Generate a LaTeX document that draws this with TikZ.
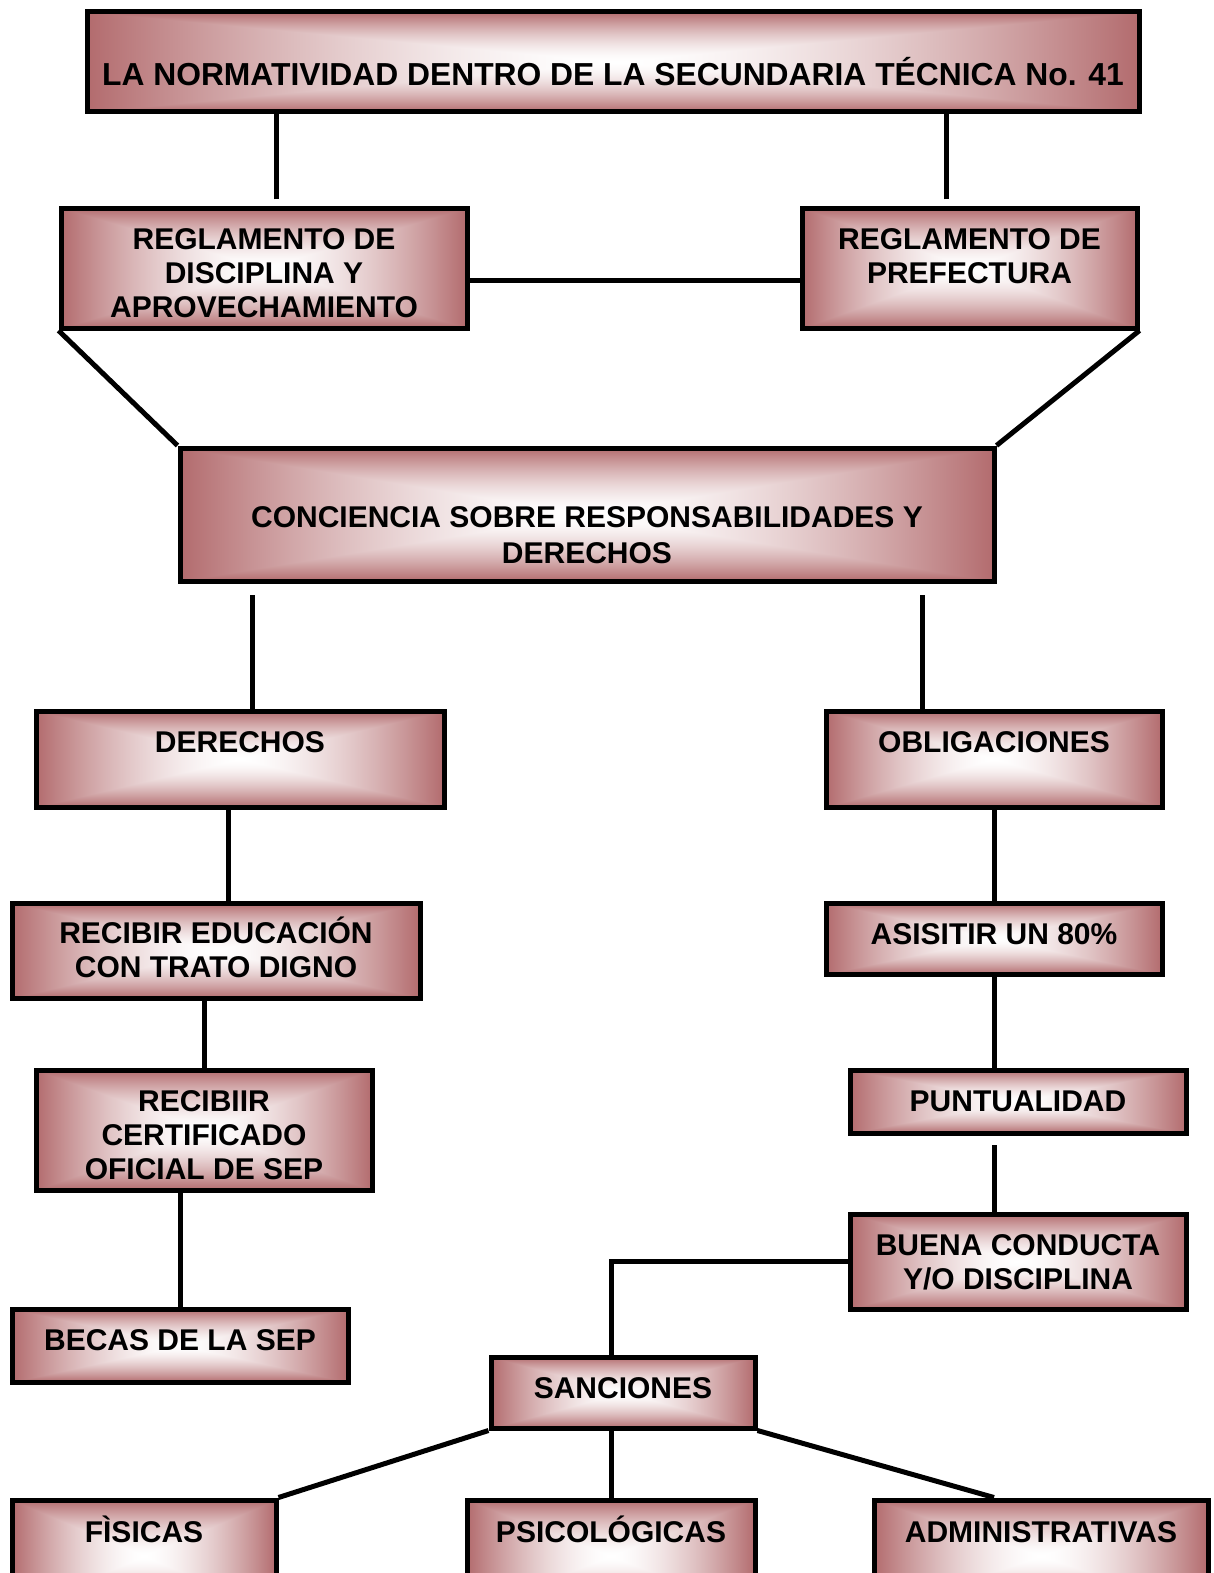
\documentclass[tikz,border=0pt]{standalone}
\usepackage{fontspec}
\setmainfont{Liberation Sans}
\usetikzlibrary{calc}

% rose frame: white centre, rosy edges
\pgfdeclarefunctionalshading{rosebox}{\pgfpoint{-50bp}{-50bp}}{\pgfpoint{50bp}{50bp}}{}{%
  abs exch abs 2 copy lt {exch} if pop 25 div
  dup 1 gt {pop 1} if
  dup 1.6 exp exch pop
  dup 0.30 mul 1 exch sub exch
  dup 0.58 mul 1 exch sub exch
  0.57 mul 1 exch sub}

\tikzset{
  frame/.style n args={3}{draw, line width=5pt, shading=rosebox, inner sep=0pt,
    anchor=base, align=center, font=\bfseries\fontsize{30}{34}\selectfont,
    minimum width=#1, text height=#2, text depth=#3},
  link/.style={line width=5pt}
}

\begin{document}
\begin{tikzpicture}[x=1pt, y=-1pt]
  \useasboundingbox (0,0) rectangle (1213,1573);

  \node[frame={1052pt}{74pt}{26pt}, font=\bfseries\fontsize{31.8}{34}\selectfont] (norma) at (613,86) {LA NORMATIVIDAD DENTRO DE LA SECUNDARIA TÉCNICA No. 41};

  \node[frame={406pt}{109pt}{11pt}] (regdis) at (264,317) {REGLAMENTO DE\\DISCIPLINA Y\\APROVECHAMIENTO};
  \node[frame={335pt}{75pt}{45pt}] (regpre) at (969.5,283) {REGLAMENTO DE\\PREFECTURA};

  \node[frame={814pt}{115pt}{18pt}, font=\bfseries\fontsize{30}{36}\selectfont] (conc) at (587,563) {CONCIENCIA SOBRE RESPONSABILIDADES Y\\DERECHOS};

  \node[frame={408pt}{41pt}{55pt}] (der) at (240,752) {DERECHOS};
  \node[frame={336pt}{41pt}{55pt}] (obl) at (994,752) {OBLIGACIONES};

  \node[frame={408pt}{74pt}{21pt}] (edu) at (216,977) {RECIBIR EDUCACIÓN\\CON TRATO DIGNO};
  \node[frame={336pt}{41pt}{30pt}] (asis) at (994,944) {ASISITIR UN 80\%};

  \node[frame={336pt}{109pt}{11pt}] (cert) at (204,1179) {RECIBIIR\\CERTIFICADO\\OFICIAL DE SEP};
  \node[frame={336pt}{41pt}{22pt}] (punt) at (1018,1111) {PUNTUALIDAD};

  \node[frame={336pt}{75pt}{20pt}] (cond) at (1018,1289) {BUENA CONDUCTA\\Y/O DISCIPLINA};
  \node[frame={336pt}{41pt}{32pt}] (becas) at (180,1350) {BECAS DE LA SEP};

  \node[frame={264pt}{41pt}{30pt}] (sanc) at (623,1398) {SANCIONES};

  \node[frame={264pt}{42pt}{70pt}] (fis) at (144,1542) {FÌSICAS};
  \node[frame={288pt}{42pt}{70pt}] (psi) at (611,1542) {PSICOLÓGICAS};
  \node[frame={334pt}{42pt}{70pt}] (adm) at (1041,1542) {ADMINISTRATIVAS};

  % upper part
  \draw[link] ([xshift=12pt,yshift=6pt]regdis.north) -- ([xshift=12pt]regdis.north |- norma.south);
  \draw[link] ([xshift=-23.5pt,yshift=6pt]regpre.north) -- ([xshift=-23.5pt]regpre.north |- norma.south);
  \draw[link] ([yshift=-12pt]regdis.east) -- ([yshift=-12pt]regdis.east -| regpre.west);
  \draw[link] (regdis.south west) -- (conc.north west);
  \draw[link] (regpre.south east) -- (conc.north east);

  % derechos / obligaciones
  \draw[link] ([xshift=12pt]der.north) -- ([xshift=12pt,yshift=-11pt]der.north |- conc.south);
  \draw[link] ([xshift=-72pt]obl.north) -- ([xshift=-72pt,yshift=-11pt]obl.north |- conc.south);
  \draw[link] ([xshift=12pt]edu.north) -- ([xshift=12pt]edu.north |- der.south);
  \draw[link] (obl.south) -- (asis.north);
  \draw[link] (cert.north) -- (cert.north |- edu.south);
  \draw[link] ([xshift=-24pt]punt.north) -- ([xshift=-24pt]punt.north |- asis.south);
  \draw[link] (becas.north) -- (becas.north |- cert.south);
  \draw[link] ([xshift=-24pt]cond.north) -- ([xshift=-24pt,yshift=-9pt]cond.north |- punt.south);

  % sanciones
  \draw[link] (cond.west) -| ([xshift=-12pt]sanc.north);
  \draw[link] (sanc.south west) -- (fis.north east);
  \draw[link] (psi.north) -- (psi.north |- sanc.south);
  \draw[link] (sanc.south east) -- ([xshift=-47pt]adm.north);
\end{tikzpicture}
\end{document}
